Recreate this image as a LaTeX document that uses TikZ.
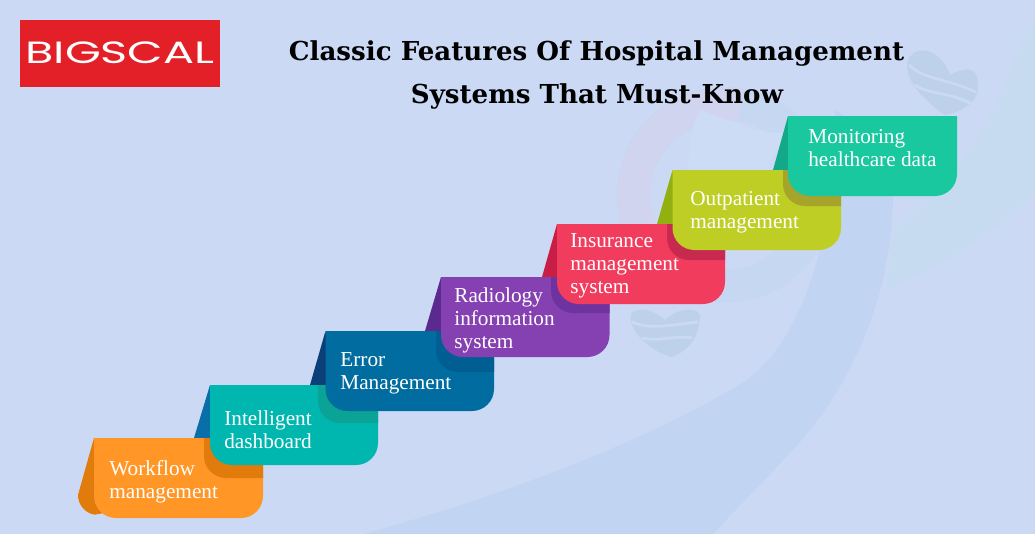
\documentclass[tikz,border=0pt]{standalone}
\usepackage{fontspec}
\usepackage{tikz}
\setmainfont{Liberation Serif}
\newfontfamily\titlefont{DejaVu Serif}
\newfontfamily\logofont{Poppins}
\definecolor{bgblue}{HTML}{CBD9F4}
\definecolor{swoosh}{HTML}{C1D5F2}
\definecolor{sideband}{HTML}{C7DBF0}
\definecolor{ringblue}{HTML}{C6D7F1}
\definecolor{ringpink}{HTML}{D1D4EE}
\definecolor{ringpale}{HTML}{CDDCF5}
\definecolor{heartblue}{HTML}{BDD1EA}
\definecolor{heartstripe}{HTML}{CBDAF2}
\definecolor{logored}{HTML}{E32028}
\definecolor{orangebox}{HTML}{FF9626}
\definecolor{orangedark}{HTML}{E07B0C}
\definecolor{tealbox}{HTML}{00B7AF}
\definecolor{tealdark}{HTML}{0BA396}
\definecolor{tealflap}{HTML}{0A6FA8}
\definecolor{bluebox}{HTML}{006C9F}
\definecolor{bluedark}{HTML}{005E92}
\definecolor{blueflap}{HTML}{0A3F78}
\definecolor{purplebox}{HTML}{8540B2}
\definecolor{purpledark}{HTML}{6F33A0}
\definecolor{purpleflap}{HTML}{5A2A90}
\definecolor{redbox}{HTML}{F23C5E}
\definecolor{reddark}{HTML}{C8294F}
\definecolor{redflap}{HTML}{C81E45}
\definecolor{limebox}{HTML}{BECE25}
\definecolor{limedark}{HTML}{A6A42B}
\definecolor{limeflap}{HTML}{92B010}
\definecolor{greenbox}{HTML}{1AC8A0}
\definecolor{greenflap}{HTML}{12A988}
\tikzset{
  steplabel/.style={anchor=north west,align=left,text=white,font=\fontsize{12.1}{13.1}\selectfont},
  titleline/.style={anchor=base,text=black,font=\titlefont\bfseries\fontsize{14.85}{16}\selectfont},
  stripe/.style={heartstripe,line width=1.6pt}
}
\begin{document}
\begin{tikzpicture}[x=0.02cm,y=0.02cm]
\tikzstyle{every node}+=[inner sep=0pt]
\clip (0,0) rectangle (1035,-534);
\fill [bgblue] (0,0) rectangle (1035,-534);
% faint background
\fill [sideband] (893,-230) .. controls (950,-190) and (1000,-110) .. (1013,-60) -- (1035,-20) -- (1035,-193) .. controls (990,-240) and (930,-270) .. (887,-290) -- cycle;
\fill [ringblue,even odd rule] (725,-195) circle (108) (725,-195) circle (75);
\fill [ringpink] (632,-250) arc (210:80:108) -- (738,-120) arc (80:210:75) -- cycle;
\fill [swoosh] (363,-534) .. controls (500,-497) and (650,-440) .. (747,-380) .. controls (775,-360) and (835,-290) .. (835,-110) .. controls (870,-130) and (893,-170) .. (893,-203) .. controls (890,-300) and (850,-390) .. (790,-453) .. controls (765,-480) and (735,-510) .. (713,-534) -- cycle;
\fill [ringpale] (700,-110) .. controls (730,-120) and (770,-140) .. (790,-130) .. controls (760,-170) and (740,-230) .. (700,-258) .. controls (690,-200) and (680,-150) .. (700,-110) -- cycle;
\fill [heartblue] (945,-115) .. controls (915,-95) and (895,-65) .. (915,-52) .. controls (930,-45) and (945,-60) .. (950,-75) .. controls (960,-70) and (980,-60) .. (978,-90) .. controls (975,-105) and (960,-112) .. (945,-115) -- cycle;
\draw [stripe] (909,-65) .. controls (925,-80) and (945,-78) .. (976,-92);
\draw [stripe] (915,-85) .. controls (930,-95) and (950,-92) .. (972,-104);
\fill [heartblue] (672,-357) .. controls (645,-350) and (625,-325) .. (632,-312) .. controls (645,-305) and (660,-315) .. (665,-320) .. controls (675,-310) and (695,-305) .. (700,-315) .. controls (700,-335) and (690,-350) .. (672,-357) -- cycle;
\draw [stripe] (632,-322) .. controls (650,-330) and (670,-325) .. (698,-322);
\draw [stripe] (642,-338) .. controls (660,-342) and (675,-335) .. (692,-338);
% logo and title
\fill [logored] (20,-20) rectangle (220,-87);
\node (logo) [text=white,xscale=1.5,font=\logofont\fontsize{17.5}{20}\selectfont] at (120,-53) {BIGSCAL};
\node (title1) [titleline] at (596.5,-60) {Classic Features Of Hospital Management};
\node (title2) [titleline] at (597,-103) {Systems That Must-Know};
% flaps
\fill [orangedark] (94,-438) -- (78,-495) arc (180:260:20) -- (110,-512) -- cycle;
\fill [tealflap] (210,-385) -- (194,-438) -- (216,-438) -- cycle;
\fill [blueflap] (325.5,-331) -- (310,-385) -- (332,-385) -- cycle;
\fill [purpleflap] (441,-277) -- (425,-331) -- (447,-331) -- cycle;
\fill [redflap] (557,-224) -- (542,-277) -- (563,-277) -- cycle;
\fill [limeflap] (672.5,-170) -- (657,-224) -- (679,-224) -- cycle;
\fill [greenflap] (788,-116) -- (773,-170) -- (794,-170) -- cycle;
% boxes
\fill [orangebox] (94,-438) -- (263,-438) -- (263,-496) arc (0:-90:22) -- (116,-518) arc (-90:-180:22) -- cycle;
\fill [orangedark] (204,-438) -- (263,-438) -- (263,-478) -- (226,-478) arc (-90:-180:22) -- cycle;
\fill [tealbox] (210,-385) -- (378,-385) -- (378,-443) arc (0:-90:22) -- (232,-465) arc (-90:-180:22) -- cycle;
\fill [tealdark] (318,-385) -- (378,-385) -- (378,-423) -- (340,-423) arc (-90:-180:22) -- cycle;
\fill [bluebox] (325.5,-331) -- (494,-331) -- (494,-389) arc (0:-90:22) -- (347.5,-411) arc (-90:-180:22) -- cycle;
\fill [bluedark] (436,-331) -- (494,-331) -- (494,-372) -- (458,-372) arc (-90:-180:22) -- cycle;
\fill [purplebox] (441,-277) -- (609.5,-277) -- (609.5,-335) arc (0:-90:22) -- (463,-357) arc (-90:-180:22) -- cycle;
\fill [purpledark] (551,-277) -- (609.5,-277) -- (609.5,-313) -- (573,-313) arc (-90:-180:22) -- cycle;
\fill [redbox] (557,-224) -- (725,-224) -- (725,-282) arc (0:-90:22) -- (579,-304) arc (-90:-180:22) -- cycle;
\fill [reddark] (667,-224) -- (725,-224) -- (725,-260) -- (689,-260) arc (-90:-180:22) -- cycle;
\fill [limebox] (672.5,-170) -- (841,-170) -- (841,-228) arc (0:-90:22) -- (694.5,-250) arc (-90:-180:22) -- cycle;
\fill [limedark] (783,-170) -- (841,-170) -- (841,-206) -- (805,-206) arc (-90:-180:22) -- cycle;
\fill [greenbox] (788,-116) -- (957,-116) -- (957,-174) arc (0:-90:22) -- (810,-196) arc (-90:-180:22) -- cycle;
% labels
\node (workflow) [steplabel] at (109,-460) {Workflow\\management};
\node (dashboard) [steplabel] at (224,-410) {Intelligent\\dashboard};
\node (errors) [steplabel] at (340,-352) {Error\\Management};
\node (radiology) [steplabel] at (454,-287) {Radiology\\information\\system};
\node (insurance) [steplabel] at (570,-233) {Insurance\\management\\system};
\node (outpatient) [steplabel] at (690,-191) {Outpatient\\management};
\node (monitoring) [steplabel] at (808,-129) {Monitoring\\healthcare data};
\end{tikzpicture}
\end{document}
